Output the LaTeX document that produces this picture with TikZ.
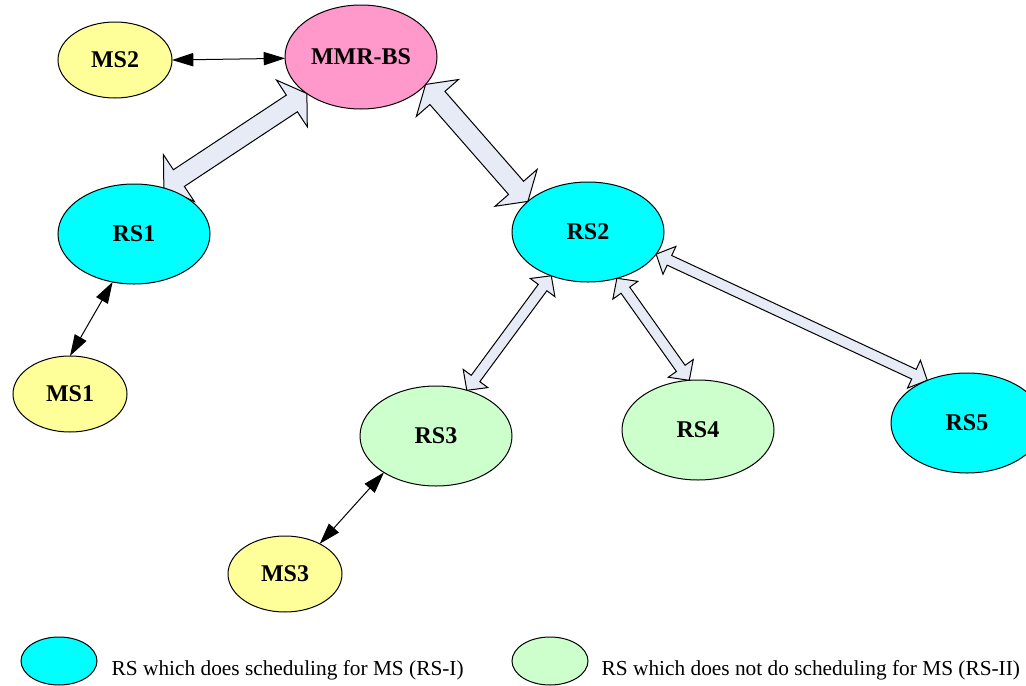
\documentclass[tikz,border=0pt]{standalone}
\usepackage{fontspec}
\setmainfont{Liberation Serif}
\usetikzlibrary{calc,arrows.meta,shapes.geometric}
\pgfdeclarelayer{background}
\pgfsetlayers{background,main}

\definecolor{bscol}{RGB}{255,153,204}
\definecolor{rsIcol}{RGB}{0,255,255}
\definecolor{rsIIcol}{RGB}{204,255,204}
\definecolor{mscol}{RGB}{255,255,153}
\definecolor{linkcol}{RGB}{230,235,246}

% Double-headed block arrow between two points.
% #1,#2: tips; #3: shaft half width; #4: head half width; #5: head length
\newcommand\relaylink[5]{%
  \draw[relay] let \p1=(#1), \p2=(#2),
      \n1={atan2(\y2-\y1,\x2-\x1)} in
    (\p1)
    -- ($(\p1)+(\n1:#5)+(\n1+90:#4)$)
    -- ($(\p1)+(\n1:#5)+(\n1+90:#3)$)
    -- ($(\p2)+(\n1:-#5)+(\n1+90:#3)$)
    -- ($(\p2)+(\n1:-#5)+(\n1+90:#4)$)
    -- (\p2)
    -- ($(\p2)+(\n1:-#5)+(\n1-90:#4)$)
    -- ($(\p2)+(\n1:-#5)+(\n1-90:#3)$)
    -- ($(\p1)+(\n1:#5)+(\n1-90:#3)$)
    -- ($(\p1)+(\n1:#5)+(\n1-90:#4)$)
    -- cycle;}

\begin{document}
\begin{tikzpicture}[x=0.75pt,y=-0.75pt,
  station/.style={ellipse,draw=black,line width=0.75pt,inner sep=0pt,outer sep=0pt,
    font=\bfseries\fontsize{18}{21}\selectfont},
  bsnode/.style={station,fill=bscol,minimum width=114pt,minimum height=78pt},
  rsone/.style={station,fill=rsIcol,minimum width=114pt,minimum height=75pt},
  rstwo/.style={station,fill=rsIIcol,minimum width=114pt,minimum height=75pt},
  msnode/.style={station,fill=mscol,minimum width=85.5pt,minimum height=57pt},
  keyshape/.style={ellipse,draw=black,line width=0.75pt,inner sep=0pt,
    minimum width=57pt,minimum height=36pt},
  radio/.style={line width=0.75pt,
    {Triangle[length=16pt,width=10pt]}-{Triangle[length=16pt,width=10pt]}},
  relay/.style={draw=black,line width=0.75pt,fill=linkcol,line join=miter},
  keytext/.style={anchor=base west,font=\fontsize{16}{19}\selectfont}]

  \useasboundingbox (0,0) rectangle (1026,686);

  % stations
  \node[bsnode] (mmr) at (361,57) {MMR-BS};
  \node[msnode] (ms2) at (115,60) {MS2};
  \node[rsone]  (rs1) at (134,234) {RS1};
  \node[rsone]  (rs2) at (588,232) {RS2};
  \node[msnode] (ms1) at (70,394) {MS1};
  \node[rstwo]  (rs3) at (436,436) {RS3};
  \node[rstwo]  (rs4) at (698,430) {RS4};
  \node[rsone]  (rs5) at (967,423) {RS5};
  \node[msnode] (ms3) at (285,574) {MS3};

  % relay links, drawn beneath the stations
  \begin{pgfonlayer}{background}
    \fill[white] (0,0) rectangle (1026,686);
    \relaylink{rs1.57}{mmr.214}{7.5pt}{21pt}{13.5pt}
    \relaylink{mmr.-23}{rs2.153}{7.5pt}{21pt}{13.5pt}
    \relaylink{rs2.-130}{rs3.56}{4pt}{11.5pt}{11pt}
    \relaylink{rs2.-58}{rs4.100}{4pt}{11.5pt}{11pt}
    \relaylink{rs2.-18}{rs5.133}{4pt}{11.5pt}{11pt}
  \end{pgfonlayer}

  % access links
  \draw[radio] (ms2.0) -- (mmr.181);
  \draw[radio] (rs1.-114) -- (ms1.90);
  \draw[radio] (rs3.-145) -- (ms3.41);

  % key
  \node[keyshape,fill=rsIcol] (keyI) at (59,661) {};
  \node[keyshape,fill=rsIIcol] (keyII) at (550,661) {};
  \node[keytext] (keyItext) at (107,675) {RS which does scheduling for MS (RS-I)};
  \node[keytext] (keyIItext) at (597,675) {RS which does not do scheduling for MS (RS-II)};
\end{tikzpicture}
\end{document}
